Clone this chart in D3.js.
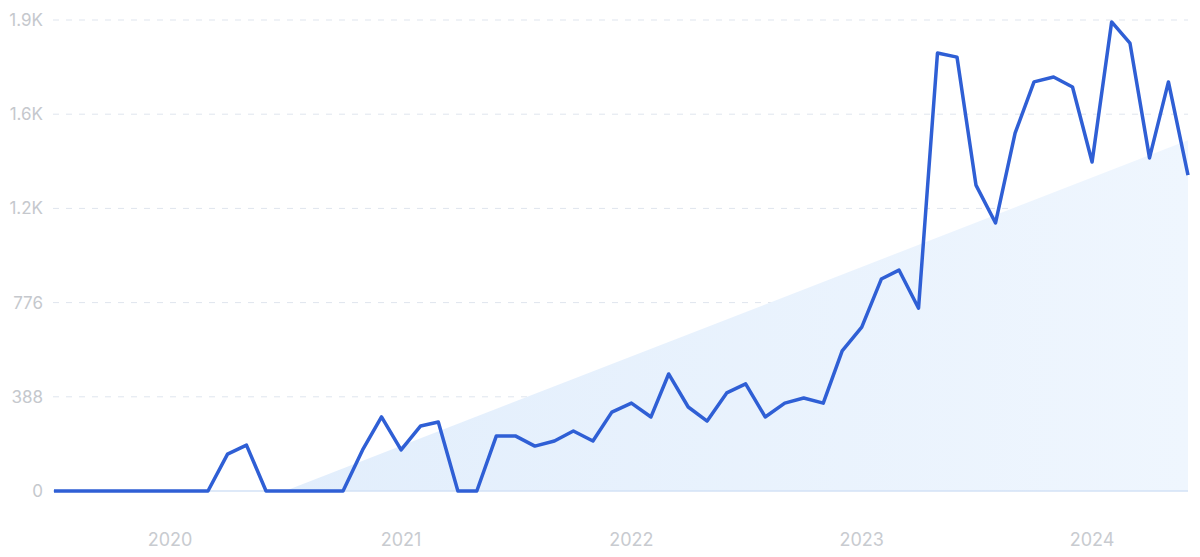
<!DOCTYPE html>
<html><head><meta charset="utf-8">
<script src="https://cdn.jsdelivr.net/npm/d3@7"></script>
<style>body{margin:0;background:#fff}svg{display:block}</style>
</head><body>
<svg id="c" width="1200" height="557"></svg>
<script>
const startMonth = "2019-07";
const values = [0,0,0,0,0,0,0,0,0,152,189,0,0,0,0,0,169,305,169,268,284,0,0,227,227,185,206,247,206,325,362,305,482,346,288,404,441,305,362,383,362,577,675,873,910,753,1804,1787,1260,1104,1474,1685,1705,1664,1355,1932,1845,1372,1685,1301];
const trendDates = ["2020-07","2024-06"];
const trendValues = [0,1445];
const yTicks = [0,388,776,1164,1552,1940];
const yTickLabels = ["0","388","776","1.2K","1.6K","1.9K"];
const xTickYears = ["2020","2021","2022","2023","2024"];

const parse = d3.timeParse("%Y-%m");
const t0 = parse(startMonth);
const data = values.map((v,i)=>({date:d3.timeMonth.offset(t0,i), v}));
const trend = trendDates.map((d,i)=>({date:parse(d), v:trendValues[i]}));

const svg = d3.select("#c");
const x = d3.scaleTime().domain([data[0].date, data[data.length-1].date]).range([54,1188]);
const y = d3.scaleLinear().domain([0,1940]).range([491,20]);

const defs = svg.append("defs");
const g = defs.append("linearGradient").attr("id","tg").attr("x1","0").attr("x2","1").attr("y1","0").attr("y2","0");
g.append("stop").attr("offset","0").attr("stop-color","#e2eefc");
g.append("stop").attr("offset","1").attr("stop-color","#eff6fe");

// grid
svg.append("g").selectAll("line").data(yTicks.filter(d=>d>0)).join("line")
  .attr("x1",53).attr("x2",1188).attr("y1",d=>y(d)).attr("y2",d=>y(d))
  .attr("stroke","#dfe5ee").attr("stroke-width",1).attr("stroke-dasharray","6,7");

// trend area
const trendFull = [{date:trend[0].date, v:0}, ...trend];
svg.append("path").datum(trend)
  .attr("d", d3.area().x(d=>x(d.date)).y0(y(0)).y1(d=>y(d.v)))
  .attr("fill","url(#tg)");

// baseline
svg.append("line").attr("x1",53).attr("x2",1188).attr("y1",y(0)).attr("y2",y(0))
  .attr("stroke","#d3e2f6").attr("stroke-width",1.5);

// y labels
svg.append("g").selectAll("text").data(yTicks).join("text")
  .attr("x",43).attr("y",d=>y(d)).attr("dy","0.35em").attr("text-anchor","end")
  .attr("font-family","Inter, 'Noto Sans', sans-serif").attr("font-size",17)
  .attr("fill","#c5c8cd").text((d,i)=>yTickLabels[i]);

// x labels
svg.append("g").selectAll("text").data(xTickYears).join("text")
  .attr("x",d=>x(parse(d+"-01"))).attr("y",540).attr("dy","0.35em").attr("text-anchor","middle")
  .attr("font-family","Inter, 'Noto Sans', sans-serif").attr("font-size",18)
  .attr("fill","#c8cbd0").text(d=>d);

// line
svg.append("path").datum(data)
  .attr("d", d3.line().x(d=>x(d.date)).y(d=>y(d.v)))
  .attr("fill","none").attr("stroke","#2f5fd5").attr("stroke-width",3.5)
  .attr("stroke-linejoin","round").attr("stroke-linecap","butt");
</script>
</body></html>
